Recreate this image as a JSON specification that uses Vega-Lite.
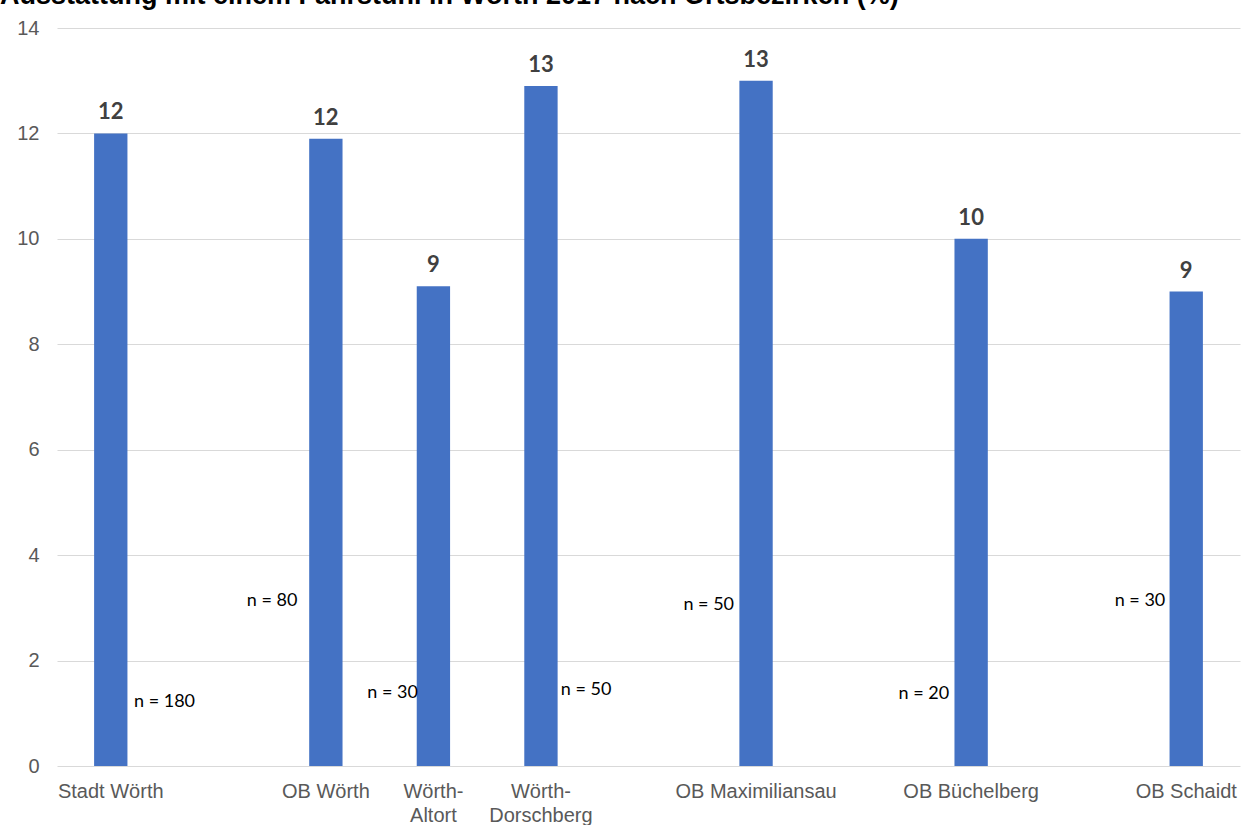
{
  "$schema": "https://vega.github.io/schema/vega-lite/v6.json",
  "width": 1183,
  "height": 738,
  "padding": {"left": 0, "top": -18, "right": 19, "bottom": 0},
  "background": "white",
  "title": {
    "text": "Ausstattung mit einem Fahrstuhl in Wörth 2017 nach Ortsbezirken (%)",
    "anchor": "start",
    "font": "Liberation Sans",
    "fontSize": 27,
    "fontWeight": "bold",
    "color": "#000000",
    "offset": 8
  },
  "datasets": {
    "bars": [
      {"bezirk": "Stadt Wörth", "anteil": 12.0, "label": "12"},
      {"bezirk": "OB Wörth", "anteil": 11.9, "label": "12"},
      {"bezirk": "Wörth-Altort", "anteil": 9.1, "label": "9"},
      {"bezirk": "Wörth-Dorschberg", "anteil": 12.9, "label": "13"},
      {"bezirk": "OB Maximiliansau", "anteil": 13.0, "label": "13"},
      {"bezirk": "OB Büchelberg", "anteil": 10.0, "label": "10"},
      {"bezirk": "OB Schaidt", "anteil": 9.0, "label": "9"}
    ],
    "n": [
      {"text": "n = 180", "pos": 0.5, "wert": 1.21},
      {"text": "n = 80", "pos": 1.5, "wert": 3.13},
      {"text": "n = 30", "pos": 2.62, "wert": 1.38},
      {"text": "n = 50", "pos": 4.42, "wert": 1.44},
      {"text": "n = 50", "pos": 5.56, "wert": 3.05},
      {"text": "n = 20", "pos": 7.56, "wert": 1.37},
      {"text": "n = 30", "pos": 9.57, "wert": 3.13}
    ]
  },
  "layer": [
    {
      "data": {"name": "bars"},
      "layer": [
        {
          "mark": {"type": "bar", "color": "#4472C4", "width": {"band": 0.31}},
          "encoding": {
            "x": {
              "field": "bezirk",
              "type": "nominal",
              "sort": null,
              "scale": {
                "domain": ["Stadt Wörth", "gap1", "OB Wörth", "Wörth-Altort", "Wörth-Dorschberg", "gap5", "OB Maximiliansau", "gap7", "OB Büchelberg", "gap9", "OB Schaidt"],
                "paddingInner": 0,
                "paddingOuter": 0
              },
              "axis": {
                "title": null,
                "labelAngle": 0,
                "ticks": false,
                "domain": false,
                "labelPadding": 15,
                "labelFont": "Liberation Sans",
                "labelFontSize": 20,
                "labelColor": "#595959",
                "labelLineHeight": 24,
                "labelBaseline": "top",
                "labelExpr": "indexof(datum.value, 'gap') == 0 ? '' : split(replace(datum.value, '-', '-|'), '|')"
              }
            },
            "y": {
              "field": "anteil",
              "type": "quantitative",
              "scale": {"domain": [0, 14], "nice": false},
              "axis": {
                "title": null,
                "values": [0, 2, 4, 6, 8, 10, 12, 14],
                "ticks": false,
                "domain": false,
                "grid": true,
                "gridColor": "#d9d9d9",
                "gridWidth": 1,
                "labelPadding": 18,
                "labelFont": "Liberation Sans",
                "labelFontSize": 20,
                "labelColor": "#595959",
                "minExtent": 57,
                "maxExtent": 57
              }
            }
          }
        },
        {
          "mark": {"type": "text", "font": "Lato", "fontSize": 22, "fontWeight": "bold", "color": "#404040", "baseline": "alphabetic", "dy": -14},
          "encoding": {
            "x": {"field": "bezirk", "type": "nominal", "sort": null},
            "y": {"field": "anteil", "type": "quantitative"},
            "text": {"field": "label"}
          }
        }
      ]
    },
    {
      "data": {"name": "n"},
      "mark": {"type": "text", "font": "Lato", "fontSize": 18, "color": "#000000", "baseline": "middle", "align": "center"},
      "encoding": {
        "x": {"field": "pos", "type": "quantitative", "scale": {"domain": [-0.5, 10.5], "nice": false, "zero": false}, "axis": null},
        "y": {"field": "wert", "type": "quantitative"},
        "text": {"field": "text"}
      }
    }
  ],
  "resolve": {"scale": {"x": "independent"}, "axis": {"x": "independent"}},
  "config": {"view": {"stroke": null}}
}
